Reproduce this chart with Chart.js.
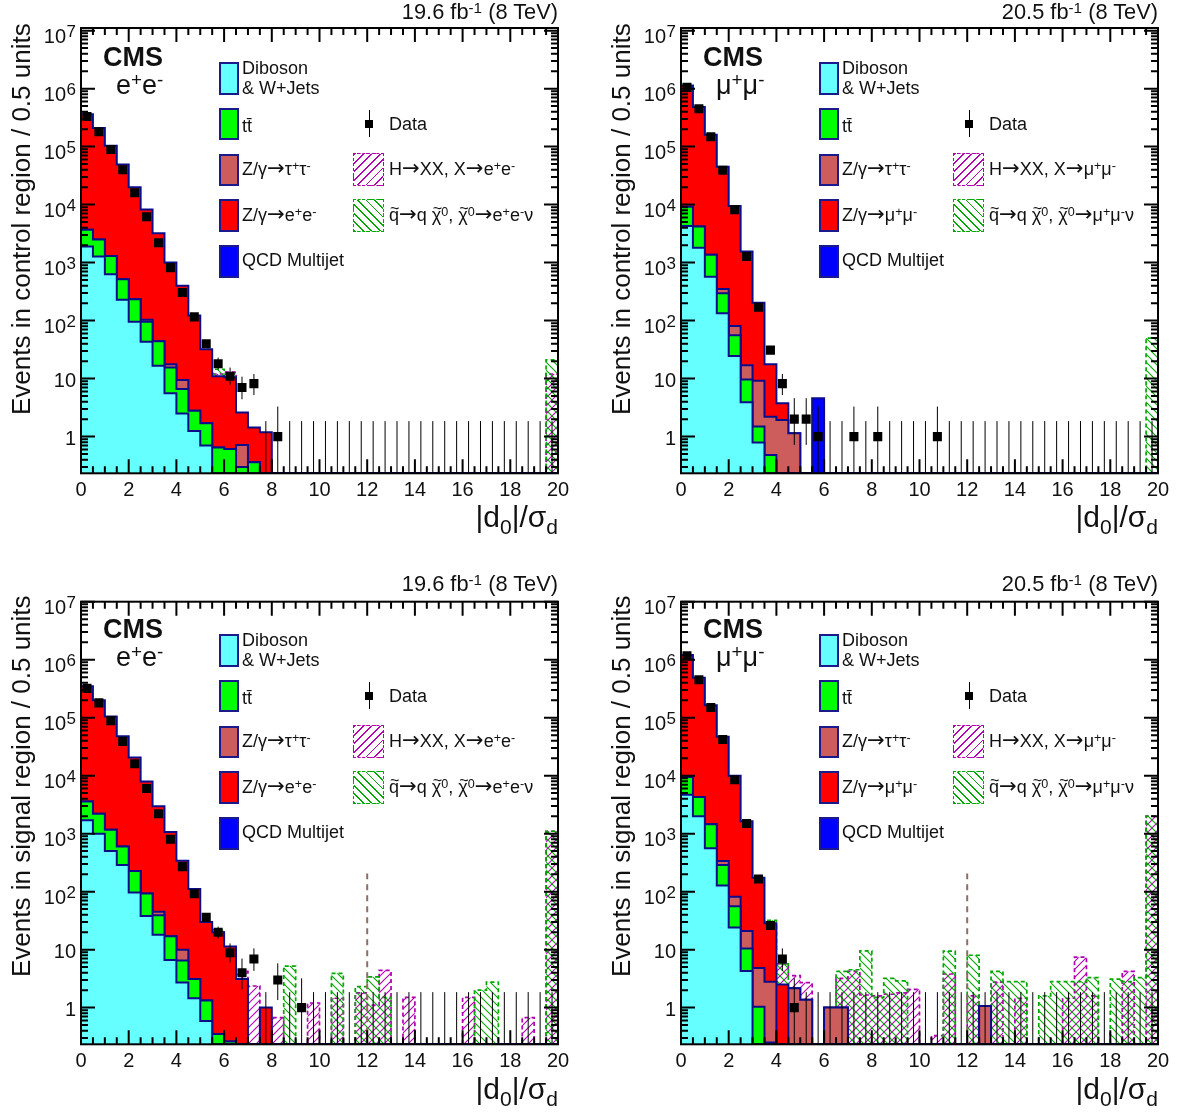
<!DOCTYPE html>
<html>
<head>
<meta charset="utf-8">
<script src="https://cdn.jsdelivr.net/npm/chart.js@4"></script>
<style>
html, body { margin: 0; padding: 0; background: #fff; }
body { width: 1184px; height: 1115px; position: relative; overflow: hidden; font-family: "Liberation Sans", Arial, sans-serif; color: #111; }
.panel { position: absolute; width: 584px; height: 543px; }
.panel canvas { position: absolute; left: 0; top: 0; }
.panel div { position: absolute; white-space: nowrap; }
.panel sup { font-size: 70%; line-height: 0; vertical-align: 0.42em; }
.panel sub { font-size: 70%; line-height: 0; vertical-align: -0.35em; }
.ylab { left: 8px; font-size: 26px; line-height: 26px; transform-origin: 0 0; transform: rotate(-90deg); }
.xlab { right: 26px; top: 502px; font-size: 30px; line-height: 30px; }
.lumi { right: 26px; top: 0px; font-size: 21.8px; line-height: 24px; }
.cms { left: 103px; top: 42px; font-size: 27px; line-height: 30px; font-weight: bold; }
.lep { left: 116px; top: 70px; font-size: 27px; line-height: 30px; }
.sw { left: 219px; width: 16px; border: 2px solid #1a1a8c; }
.lg { left: 242px; font-size: 18px; line-height: 20px; }
.lg2 { left: 389px; font-size: 18px; line-height: 20px; }
.hatch { left: 353px; width: 29px; height: 31px; border: 1.5px dashed; }
.mark { left: 365px; top: 120px; width: 8px; height: 8px; background: #000; }
.markbar { left: 368.5px; top: 110px; width: 1px; height: 27px; background: #000; }
.ar { font-family: "DejaVu Sans", sans-serif; font-size: 118%; line-height: 0; }
.tl { position: relative; display: inline-block; }
.tl i { position: absolute; left: 1px; top: -7px; font-style: normal; font-size: 90%; }
</style>
</head>
<body>
<script>
// bins of |d0|/sigma_d, 0.5 wide
var nBins = 40;
var binWidth = 0.5;
var xTickLabels = ['0','2','4','6','8','10','12','14','16','18','20'];
var yTickValues = [1, 10, 100, 1e3, 1e4, 1e5, 1e6, 1e7];
var yTickBases = ['1','10','10','10','10','10','10','10'];
var yTickExps = ['','','2','3','4','5','6','7'];

// stack tops, 0 = empty bin
// ee control
var eeCtrlDiboson = [1900,1270,630,228,96,43,16.7,5.6,2.5,1.25,0.7];
var eeCtrlTop = [3700,2500,1300,517,234,96,44,15.5,6.6,2.8,1.7,0.65,0.61,0.3,0.36];
var eeCtrlTau = [3700,2500,1300,517,234,103,44,17.7,9.5,2.8,1.7,0.65,0.61,0.72,0.36];
var eeCtrlZ = [3.6e5,2.1e5,1.04e5,4.9e4,2e4,8200,3200,1000,400,122,32,11,10.6,2.6,1.43,1.19];
var eeCtrlQcd = [];
var eeCtrlHiggs = [0,0,0,0,0,0,0,0,0,0,0,12,13,0,0,0,0,0,0,0,0,0,0,0,0,0,0,0,0,0,0,0,0,0,0,0,0,0,0,12];
var eeCtrlSquark = [0,0,0,0,0,0,0,0,0,0,0,14.5,12,0,0,0,0,0,0,0,0,0,0,0,0,0,0,0,0,0,0,0,0,0,0,0,0,0,0,21];
var eeCtrlData = [3.3e5,1.8e5,8.9e4,4e4,1.6e4,6200,2200,820,305,116,40,18,11,7,8.2,0,1];
var eeCtrlLow = [null,null,null,null,null,null,null,null,null,null,null,14.5,7.8,4.4,5.2,0,0.17,0,0,0,0,0,0,0,0,0,0,0,0,0,0,0,0,0,0,0,0,0,0,0];
var eeCtrlHigh = [null,null,null,null,null,null,null,null,null,null,null,23,15.5,10.8,12,1.85,3.3,1.85,1.85,1.85,1.85,1.85,1.85,1.85,1.85,1.85,1.85,1.85,1.85,1.85,1.85,1.85,1.85,1.85,1.85,1.85,1.85,1.85,1.85,1.85];

// mumu control
var mmCtrlDiboson = [4300,1800,570,134,24.6,3.9,0.79];
var mmCtrlTop = [9200,4200,1360,295,56,9.7,1.49,0.48];
var mmCtrlTau = [9200,4200,1360,350,81,17,9.2,2.2,1.94,1.14];
var mmCtrlZ = [1.13e6,4.8e5,1.6e5,4.5e4,9500,1550,204,17.7,3.75,1.14];
var mmCtrlQcd = [0,0,0,0,0,0,0,0,0,0,0,4.6];
var mmCtrlHiggs = [];
var mmCtrlSquark = [0,0,0,0,0,0,0,0,0,0,0,0,0,0,0,0,0,0,0,0,0,0,0,0,0,0,0,0,0,0,0,0,0,0,0,0,0,0,0,50];
var mmCtrlData = [1.05e6,4.5e5,1.48e5,3.9e4,8200,1270,170,31,8.2,2,2,1,0,0,1,0,1,0,0,0,0,1];
var mmCtrlLow = [null,null,null,null,null,null,null,null,5.2,0.72,0.72,0.17,0,0,0.17,0,0.17,0,0,0,0,0.17,0,0,0,0,0,0,0,0,0,0,0,0,0,0,0,0,0,0];
var mmCtrlHigh = [null,null,null,null,null,null,null,null,12,4.6,4.6,3.3,1.85,1.85,3.3,1.85,3.3,1.85,1.85,1.85,1.85,3.3,1.85,1.85,1.85,1.85,1.85,1.85,1.85,1.85,1.85,1.85,1.85,1.85,1.85,1.85,1.85,1.85,1.85,1.85];

// ee signal
var eeSigDiboson = [1700,1000,500,288,97,38,18,6.6,2.7,1.45,0.59];
var eeSigTop = [3600,2200,1170,600,228,93,39,17,6.5,3.1,1.32,0.35,0.26];
var eeSigTau = [3600,2200,1170,600,228,93,45,17,10,3.1,1.32,0.35,0.26];
var eeSigZ = [3.5e5,2e5,1.05e5,4.8e4,2.05e4,7900,2960,1070,340,111,30,20,11.3,3.1,0,1];
var eeSigQcd = [];
var eeSigHiggs = [0,0,0,0,0,0,0,0,0,0,0,0,0,4.2,2.36,0,0.67,0,0,1.2,0,1.45,0,1.8,1.1,4.4,0,1.5,0,0,0,0,1.5,0,0,0,0,0.67,0,1100];
var eeSigSquark = [0,0,0,0,0,0,0,0,0,0,0,22,0,0,0,0,0,5.2,0,0,0,3.9,0,2.3,3.4,1.5,0,0,0,0,0,0,0,2,2.75,0,0,0,0,1100];
var eeSigData = [3.2e5,1.8e5,8.9e4,3.9e4,1.6e4,6000,2200,800,270,92,36,20,8.8,4,6.9,0,3,0,1];
var eeSigLow = [null,null,null,null,null,null,null,null,null,null,null,15.5,6,2.07,4.3,0,1.35,0,0.17,0,0,0,0,0,0,0,0,0,0,0,0,0,0,0,0,0,0,0,0,0];
var eeSigHigh = [null,null,null,null,null,null,null,null,null,null,null,25,12.8,7,10.5,1.85,5.8,1.85,3.2,1.85,1.85,1.85,1.85,1.85,1.85,1.85,1.85,1.85,1.85,1.85,1.85,1.85,1.85,1.85,1.85,1.85,1.85,1.85,1.85,1.85];

// mumu signal
var mmSigDiboson = [4700,2000,560,127,24,4.3];
var mmSigTop = [9500,4300,1450,288,56,10.5,1.04,0.25];
var mmSigTau = [9500,4300,1450,338,82,21,4.8,2.8,0,2.15,1.36,0,1,1,0,0,0,0,0,0,0,0,0,0,0,1.07];
var mmSigZ = [1.2e6,4.9e5,1.64e5,4.7e4,1e4,1640,174,28.5,2.5,2.15,1.36,0,1,1,0,0,0,0,0,0,0,0,0,0,0,1.07];
var mmSigQcd = [];
var mmSigHiggs = [0,0,0,0,0,0,0,0,5.66,3.56,2.7,0,0,3.2,4.2,1.65,1.6,1.7,1.8,2.07,0,0.33,3.8,0,1.6,0,2.75,0,1.45,0,0,0,1.45,7.4,1.6,0,0,4.2,0,2000];
var mmSigSquark = [0,0,0,0,0,0,0,32,5.66,0,0,0,0,4.2,4.5,9.5,1.5,3.2,2.9,0,0,0,9.4,0,8,0,4.2,2.8,2.8,0,1.6,2.8,2.8,2.8,3.3,0,3.1,2.8,3.3,2000];
var mmSigData = [1.17e6,4.5e5,1.5e5,4.2e4,8500,1500,165,26,6.9,1];
var mmSigLow = [null,null,null,null,null,null,null,null,4.3,0.17,0,0,0,0,0,0,0,0,0,0,0,0,0,0,0,0,0,0,0,0,0,0,0,0,0,0,0,0,0,0];
var mmSigHigh = [null,null,null,null,null,null,null,null,10.5,3.2,1.85,1.85,1.85,1.85,1.85,1.85,1.85,1.85,1.85,1.85,1.85,1.85,1.85,1.85,1.85,1.85,1.85,1.85,1.85,1.85,1.85,1.85,1.85,1.85,1.85,1.85,1.85,1.85,1.85,1.85];

// dashed marker seen in both signal region plots
var dashX = [12, 12];
var dashY = [0.233, 205];

var panels = [
  { left: 0, top: 0, height: 560, areaTop: 28, areaBottom: 473.3, yMax: 1.11e7, yMin: 0.233, lumi: '19.6', lep: 'e', region: 'control', ylabTop: 415,
    dib: eeCtrlDiboson, tt: eeCtrlTop, tau: eeCtrlTau, z: eeCtrlZ, qcd: eeCtrlQcd, higgs: eeCtrlHiggs, squark: eeCtrlSquark, data: eeCtrlData, low: eeCtrlLow, high: eeCtrlHigh },
  { left: 600, top: 0, height: 560, areaTop: 28, areaBottom: 473.3, yMax: 1.11e7, yMin: 0.233, lumi: '20.5', lep: 'm', region: 'control', ylabTop: 415,
    dib: mmCtrlDiboson, tt: mmCtrlTop, tau: mmCtrlTau, z: mmCtrlZ, qcd: mmCtrlQcd, higgs: mmCtrlHiggs, squark: mmCtrlSquark, data: mmCtrlData, low: mmCtrlLow, high: mmCtrlHigh },
  { left: 0, top: 572, height: 543, areaTop: 29.7, areaBottom: 472.3, yMax: 1e7, yMin: 0.233, lumi: '19.6', lep: 'e', region: 'signal', ylabTop: 405, dash: true,
    dib: eeSigDiboson, tt: eeSigTop, tau: eeSigTau, z: eeSigZ, qcd: eeSigQcd, higgs: eeSigHiggs, squark: eeSigSquark, data: eeSigData, low: eeSigLow, high: eeSigHigh },
  { left: 600, top: 572, height: 543, areaTop: 29.7, areaBottom: 472.3, yMax: 1e7, yMin: 0.233, lumi: '20.5', lep: 'm', region: 'signal', ylabTop: 405, dash: true,
    dib: mmSigDiboson, tt: mmSigTop, tau: mmSigTau, z: mmSigZ, qcd: mmSigQcd, higgs: mmSigHiggs, squark: mmSigSquark, data: mmSigData, low: mmSigLow, high: mmSigHigh }
];

var NAVY = '#0c0c8a';
var PURPLE = '#b000b0';
var GREEN = '#00a800';
var FONT = '"Liberation Sans", Arial, sans-serif';

function hatchPattern(color, rising) {
  var tile = document.createElement('canvas');
  tile.width = 8; tile.height = 8;
  var c = tile.getContext('2d');
  c.strokeStyle = color;
  c.lineWidth = 1.1;
  for (var k = -8; k <= 8; k += 8) {
    c.beginPath();
    if (rising) { c.moveTo(k - 1, 9); c.lineTo(k + 9, -1); }
    else { c.moveTo(k - 1, -1); c.lineTo(k + 9, 9); }
    c.stroke();
  }
  return c.createPattern(tile, 'repeat');
}

function stepPoints(tops, yMin) {
  var pts = [];
  for (var i = 0; i <= nBins; i++) {
    var v = tops[Math.min(i, nBins - 1)];
    pts.push({ x: i * binWidth, y: v > 0 ? v : yMin });
  }
  return pts;
}

function histSet(tops, yMin, fillColor, order) {
  return { data: stepPoints(tops, yMin), stepped: true, fill: 'start', backgroundColor: fillColor, borderColor: NAVY, borderWidth: 2, pointRadius: 0, order: order };
}

function hatchSet(tops, yMin, color, rising, order) {
  return { data: stepPoints(tops, yMin), stepped: true, fill: 'start', backgroundColor: hatchPattern(color, rising), borderColor: color, borderWidth: 1.7, borderDash: [4, 3], pointRadius: 0, order: order };
}

// frame, inward ticks on all four sides and the 10^n labels
var rootAxes = {
  id: 'rootAxes',
  afterDatasetsDraw: function(chart) {
    var a = chart.chartArea, ctx = chart.ctx, xs = chart.scales.x, ys = chart.scales.y;
    var yLo = ys.min, yHi = ys.max;
    ctx.save();
    ctx.strokeStyle = '#000';
    ctx.lineWidth = 2;
    ctx.strokeRect(a.left, a.top, a.right - a.left, a.bottom - a.top);
    ctx.beginPath();
    for (var i = 0; i <= nBins; i++) {
      var px = xs.getPixelForValue(i * binWidth);
      var len = i % 4 === 0 ? 14 : 7;
      ctx.moveTo(px, a.bottom); ctx.lineTo(px, a.bottom - len);
      ctx.moveTo(px, a.top); ctx.lineTo(px, a.top + len);
    }
    for (var d = -1; d <= 7; d++) {
      for (var m = 1; m <= 9; m++) {
        var v = m * Math.pow(10, d);
        if (v < yLo || v > yHi) continue;
        var py = ys.getPixelForValue(v);
        var l = m === 1 ? 14 : 7;
        ctx.moveTo(a.left, py); ctx.lineTo(a.left + l, py);
        ctx.moveTo(a.right, py); ctx.lineTo(a.right - l, py);
      }
    }
    ctx.stroke();
    ctx.fillStyle = '#111';
    ctx.textBaseline = 'alphabetic';
    yTickValues.forEach(function(val, n) {
      var y = ys.getPixelForValue(val);
      var exp = yTickExps[n];
      if (exp) {
        ctx.font = '17px ' + FONT;
        ctx.textAlign = 'right';
        ctx.fillText(exp, 76, y + 6);
        ctx.font = '20px ' + FONT;
        ctx.fillText(yTickBases[n], 66, y + 12);
      } else {
        ctx.font = '20px ' + FONT;
        ctx.textAlign = 'right';
        ctx.fillText(yTickBases[n], 76, y + 8);
      }
    });
    ctx.restore();
  }
};

function panelMarkup(p) {
  var l = p.lep === 'e' ? 'e' : '&mu;';
  var pair = l + '<sup>+</sup>' + l + '<sup>-</sup>';
  var arrow = '<span class="ar">&rarr;</span>';
  var chi = '<span class="tl">&chi;<i>~</i></span><sup>0</sup>';
  return '<canvas></canvas>' +
    '<div class="ylab" style="top:' + p.ylabTop + 'px">Events in ' + p.region + ' region / 0.5 units</div>' +
    '<div class="xlab">|d<sub>0</sub>|/&sigma;<sub>d</sub></div>' +
    '<div class="lumi">' + p.lumi + ' fb<sup>-1</sup> (8 TeV)</div>' +
    '<div class="cms">CMS</div>' +
    '<div class="lep">' + pair + '</div>' +
    '<div class="sw" style="top:62px;height:29px;background:#66ffff"></div>' +
    '<div class="lg" style="top:58px">Diboson</div><div class="lg" style="top:78px">&amp; W+Jets</div>' +
    '<div class="sw" style="top:108px;height:28px;background:#00ff00"></div>' +
    '<div class="lg" style="top:116px">tt&#772;</div>' +
    '<div class="sw" style="top:154px;height:28px;background:#cd5c5c"></div>' +
    '<div class="lg" style="top:159px">Z/&gamma;' + arrow + '&tau;<sup>+</sup>&tau;<sup>-</sup></div>' +
    '<div class="sw" style="top:199px;height:29px;background:#ff0000"></div>' +
    '<div class="lg" style="top:205px">Z/&gamma;' + arrow + pair + '</div>' +
    '<div class="sw" style="top:245px;height:29px;background:#0000ff"></div>' +
    '<div class="lg" style="top:250px">QCD Multijet</div>' +
    '<div class="markbar"></div><div class="mark"></div>' +
    '<div class="lg2" style="top:114px">Data</div>' +
    '<div class="hatch h1" style="top:153px;border-color:' + PURPLE + ';background:repeating-linear-gradient(135deg,' + PURPLE + ' 0 1.1px,transparent 1.1px 6px)"></div>' +
    '<div class="lg2" style="top:159px">H' + arrow + 'XX, X' + arrow + pair + '</div>' +
    '<div class="hatch h2" style="top:199px;border-color:' + GREEN + ';background:repeating-linear-gradient(45deg,' + GREEN + ' 0 1.1px,transparent 1.1px 6px)"></div>' +
    '<div class="lg2" style="top:205px"><span class="tl">q<i>~</i></span>' + arrow + 'q ' + chi + ', ' + chi + arrow + pair + '&nu;</div>';
}

panels.forEach(function(p) {
  var box = document.createElement('div');
  box.className = 'panel';
  box.style.left = p.left + 'px';
  box.style.top = p.top + 'px';
  box.style.height = p.height + 'px';
  box.innerHTML = panelMarkup(p);
  document.body.appendChild(box);
  var canvas = box.querySelector('canvas');
  canvas.width = 584;
  canvas.height = p.height;
  canvas.style.width = '584px';
  canvas.style.height = p.height + 'px';

  var errPoints = [];
  p.high.forEach(function(hi, i) {
    if (hi === null) return;
    var cx = (i + 0.5) * binWidth;
    errPoints.push({ x: cx, y: p.low[i] > 0 ? p.low[i] : p.yMin });
    errPoints.push({ x: cx, y: hi });
    errPoints.push({ x: cx, y: null });
  });
  var dataPoints = [];
  p.data.forEach(function(n, i) {
    if (n > 0) dataPoints.push({ x: (i + 0.5) * binWidth, y: n });
  });

  var sets = [
    hatchSet(p.higgs, p.yMin, PURPLE, true, 9),
    hatchSet(p.squark, p.yMin, GREEN, false, 8),
    histSet(p.qcd, p.yMin, '#0000ff', 7),
    histSet(p.z, p.yMin, '#ff0000', 6),
    histSet(p.tau, p.yMin, '#cd5c5c', 5),
    histSet(p.tt, p.yMin, '#00ff00', 4),
    histSet(p.dib, p.yMin, '#66ffff', 3),
    { data: errPoints, borderColor: '#000', borderWidth: 1, pointRadius: 0, spanGaps: false, fill: false, order: 2 },
    { data: dataPoints, showLine: false, pointStyle: 'rect', pointRadius: 6.4, pointBackgroundColor: '#000', pointBorderColor: '#000', pointBorderWidth: 0, fill: false, order: 1 }
  ];
  if (p.dash) {
    sets.push({ data: dashX.map(function(x, i) { return { x: x, y: dashY[i] }; }), borderColor: '#8d6e63', borderWidth: 2, borderDash: [6, 5], pointRadius: 0, fill: false, order: 2.5 });
  }

  new Chart(canvas, {
    type: 'line',
    data: { datasets: sets },
    plugins: [rootAxes],
    options: {
      responsive: false,
      animation: false,
      devicePixelRatio: 1,
      layout: { padding: { left: 0, right: 26, top: p.areaTop, bottom: 0 } },
      plugins: { legend: { display: false }, tooltip: { enabled: false }, title: { display: false } },
      scales: {
        x: {
          type: 'linear', min: 0, max: 20,
          grid: { display: false, drawTicks: false },
          border: { display: false },
          ticks: {
            stepSize: 2, autoSkip: false, maxRotation: 0, padding: 5, color: '#111',
            font: { size: 20, family: FONT },
            callback: function(v) { return xTickLabels[v / 2]; }
          },
          afterFit: function(s) { s.height = p.height - p.areaBottom; }
        },
        y: {
          type: 'logarithmic', min: p.yMin, max: p.yMax,
          grid: { display: false, drawTicks: false },
          border: { display: false },
          ticks: { display: false },
          afterFit: function(s) { s.width = 81; }
        }
      }
    }
  });
});
</script>
</body>
</html>
